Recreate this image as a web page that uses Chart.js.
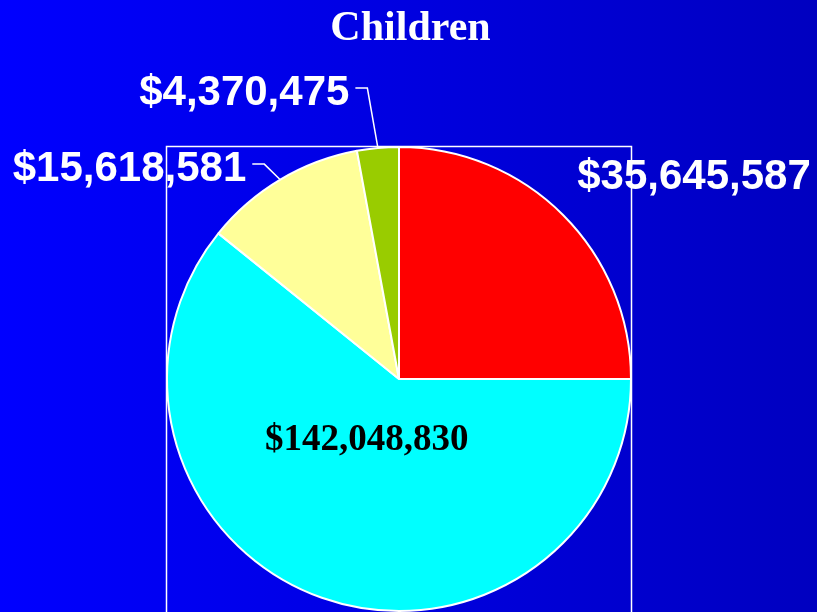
<!DOCTYPE html>
<html>
<head>
<meta charset="utf-8">
<script src="https://cdn.jsdelivr.net/npm/chart.js@4/dist/chart.umd.min.js"></script>
<style>
  html, body { margin: 0; padding: 0; background: #0000e0; }
  #wrap { width: 817px; height: 612px; position: relative; }
</style>
</head>
<body>
<div id="wrap"><canvas id="c" width="817" height="612"></canvas></div>
<script>
// ---- data ----
const titleText = 'Children';
const categories = ['$35,645,587', '$142,048,830', '$15,618,581', '$4,370,475'];
// slice shares (percent of the circle) as drawn in the picture
const shares = [25.0, 60.8, 11.3, 2.9];
const sliceColors = ['#ff0000', '#00ffff', '#ffff99', '#99cc00'];

// label placement: [dx, dy] of text baseline anchor relative to pie centre (in radii), alignment, colour, font, leader
const labelStyle = [
  { dx: 0.768, dy: -0.82, align: 'left',  color: '#ffffff', font: 'bold 42px "Liberation Sans", Arial, sans-serif', leader: false },
  { dx: -0.578, dy: 0.306, align: 'left',  color: '#000000', font: 'bold 37px "Liberation Serif", "Times New Roman", serif', leader: false },
  { dx: -1.665, dy: -0.853, align: 'left', color: '#ffffff', font: 'bold 42px "Liberation Sans", Arial, sans-serif', leader: true },
  { dx: -1.12, dy: -1.181, align: 'left', color: '#ffffff', font: 'bold 42px "Liberation Sans", Arial, sans-serif', leader: true }
];

const bgPlugin = {
  id: 'bg',
  beforeDraw(chart) {
    const ctx = chart.ctx;
    const g = ctx.createLinearGradient(0, 0, chart.width, 0);
    g.addColorStop(0, '#0000ff');
    g.addColorStop(1, '#0000c0');
    ctx.save();
    ctx.fillStyle = g;
    ctx.fillRect(0, 0, chart.width, chart.height);
    ctx.restore();
  }
};

const labelPlugin = {
  id: 'labels',
  afterDatasetsDraw(chart) {
    const ctx = chart.ctx;
    const arcs = chart.getDatasetMeta(0).data;
    const cx = arcs[0].x, cy = arcs[0].y, r = arcs[0].outerRadius;
    ctx.save();
    // title
    ctx.fillStyle = '#ffffff';
    ctx.font = 'bold 42px "Liberation Serif", "Times New Roman", serif';
    ctx.textAlign = 'center';
    ctx.textBaseline = 'alphabetic';
    ctx.fillText(titleText, chart.width / 2 + 2, 40);
    categories.forEach((txt, i) => {
      const st = labelStyle[i];
      const x = cx + st.dx * r, y = cy + st.dy * r;
      ctx.font = st.font;
      ctx.fillStyle = st.color;
      ctx.textAlign = st.align;
      ctx.fillText(txt, x, y);
      if (st.leader) {
        const w = ctx.measureText(txt).width;
        const a = arcs[i];
        const mid = (a.startAngle + a.endAngle) / 2;
        const ex = a.x + Math.cos(mid) * a.outerRadius;
        const ey = a.y + Math.sin(mid) * a.outerRadius;
        const sx = x + w + 6, sy = y - 17;
        ctx.strokeStyle = '#ffffff';
        ctx.lineWidth = 1.5;
        ctx.beginPath();
        ctx.moveTo(sx, sy);
        ctx.lineTo(sx + 12, sy);
        ctx.lineTo(ex, ey);
        ctx.stroke();
      }
    });
    ctx.restore();
  },
  afterDraw(chart) {
    const ctx = chart.ctx;
    const a = chart.getDatasetMeta(0).data[0];
    const r = a.outerRadius;
    ctx.save();
    ctx.strokeStyle = '#ffffff';
    ctx.lineWidth = 1.5;
    ctx.strokeRect(Math.round(a.x - r) - 0.5, Math.round(a.y - r) - 0.5, Math.round(2 * r) + 1, Math.round(2 * r) + 6);
    ctx.restore();
  }
};

new Chart(document.getElementById('c'), {
  type: 'pie',
  data: {
    labels: categories,
    datasets: [{
      data: shares,
      backgroundColor: sliceColors,
      borderColor: '#ffffff',
      borderWidth: 2
    }]
  },
  options: {
    responsive: false,
    animation: false,
    rotation: 0,
    layout: { padding: { left: 166, right: 185, top: 146, bottom: 0 } },
    plugins: {
      legend: { display: false },
      title: { display: false },
      tooltip: { enabled: false }
    }
  },
  plugins: [bgPlugin, labelPlugin]
});
</script>
</body>
</html>
